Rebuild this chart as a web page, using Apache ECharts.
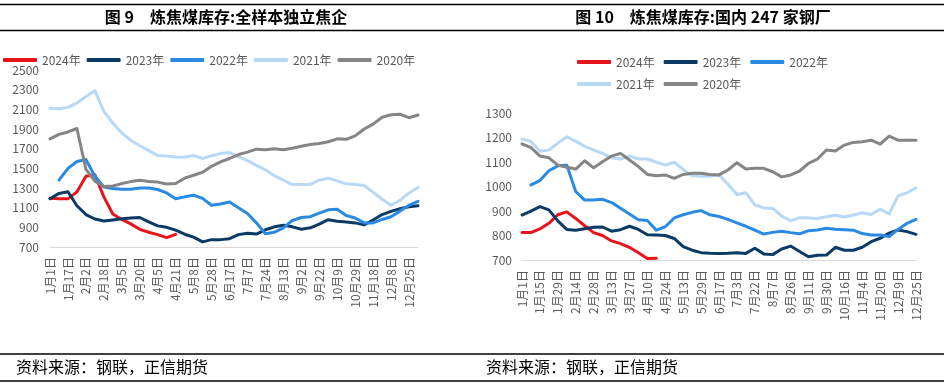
<!DOCTYPE html>
<html>
<head>
<meta charset="utf-8">
<script src="https://cdn.jsdelivr.net/npm/echarts@6/dist/echarts.min.js"></script>
<style>
html,body{margin:0;padding:0;background:#fff;}
#c{width:944px;height:385px;}
</style>
</head>
<body>
<div id="c"></div>
<script>
// ---------- Left chart: 全样本独立焦企 ----------
const leftCategories = ['1月1日','1月9日','1月17日','1月25日','2月2日','2月10日','2月18日','2月25日','3月5日','3月12日','3月20日','3月28日','4月5日','4月13日','4月21日','4月28日','5月8日','5月18日','5月28日','6月7日','6月17日','6月27日','7月7日','7月14日','7月24日','8月3日','8月13日','8月23日','9月2日','9月12日','9月22日','9月29日','10月9日','10月19日','10月29日','11月8日','11月18日','11月28日','12月8日','12月16日','12月25日','12月31日'];
const left2024 = [1195,1190,1190,1260,1420,1435,1210,1035,980,935,880,850,826,795,828];
const left2023 = [1190,1245,1262,1120,1030,985,965,975,987,995,1000,955,915,900,872,830,800,752,775,775,785,826,840,832,875,905,921,905,880,895,932,978,962,955,945,925,975,1030,1062,1090,1110,1120];
const left2022 = [null,1380,1500,1570,1590,1420,1310,1295,1288,1288,1300,1300,1285,1250,1190,1210,1226,1195,1125,1138,1158,1100,1040,945,835,850,895,970,1000,1008,1045,1078,1084,1020,995,945,945,980,1008,1065,1125,1165];
const left2021 = [2110,2105,2120,2165,2230,2290,2080,1960,1860,1785,1730,1680,1630,1625,1615,1612,1630,1600,1628,1650,1660,1620,1578,1530,1485,1425,1380,1335,1335,1338,1380,1400,1372,1342,1335,1325,1255,1185,1125,1175,1250,1305];
const left2020 = [1800,1845,1870,1905,1490,1370,1315,1320,1345,1365,1378,1365,1360,1340,1345,1400,1430,1460,1520,1565,1600,1640,1665,1695,1690,1698,1690,1705,1725,1742,1752,1770,1800,1795,1830,1900,1950,2020,2045,2050,2015,2042];
const leftYTicks = [700,900,1100,1300,1500,1700,1900,2100,2300,2500];

// ---------- Right chart: 国内247家钢厂 ----------
const rightCategories = ['1月1日','1月8日','1月15日','1月22日','1月29日','2月7日','2月14日','2月21日','2月28日','3月6日','3月13日','3月20日','3月27日','4月3日','4月10日','4月17日','4月24日','5月6日','5月13日','5月20日','5月29日','6月7日','6月17日','6月25日','7月3日','7月12日','7月22日','7月29日','8月7日','8月16日','8月26日','9月2日','9月11日','9月20日','9月30日','10月8日','10月16日','10月25日','11月4日','11月12日','11月20日','11月29日','12月9日','12月16日','12月25日'];
const right2024 = [812,812,827,850,885,897,870,840,812,800,778,767,752,730,706,707];
const right2023 = [884,900,918,905,860,825,822,828,834,835,818,824,838,825,803,802,800,788,755,740,730,728,727,728,730,727,748,725,722,745,757,735,713,719,720,752,740,740,752,775,789,810,823,816,805];
const right2022 = [null,1007,1025,1065,1085,1088,980,945,945,948,935,912,888,865,862,822,836,872,885,895,902,885,878,866,852,838,822,806,813,818,812,807,820,823,830,826,824,822,808,802,802,796,825,850,866];
const right2021 = [1195,1185,1145,1150,1178,1204,1185,1165,1150,1136,1118,1113,1125,1113,1113,1100,1088,1100,1070,1045,1043,1043,1048,1010,968,975,925,913,911,880,860,873,872,870,877,883,876,884,893,886,908,888,962,975,995];
const right2020 = [1175,1160,1125,1118,1088,1079,1072,1106,1077,1102,1125,1136,1109,1082,1050,1045,1048,1034,1050,1055,1055,1050,1048,1068,1098,1072,1075,1075,1061,1040,1048,1064,1095,1113,1150,1146,1170,1181,1184,1190,1174,1207,1190,1190,1190];

const seriesNames = ['2024年','2023年','2022年','2021年','2020年'];
const seriesColors = ['#e8141b','#0b3a66','#2a8ae2','#b7d9f6','#858585'];

const FONT = "'Microsoft YaHei','Noto Sans CJK SC',sans-serif";
const labelColor = '#595959';

function mkSeries(name, color, data, idx){
  return {
    name: name, type: 'line', data: data,
    xAxisIndex: idx, yAxisIndex: idx,
    showSymbol: false, symbol: 'none', smooth: false, connectNulls: false,
    lineStyle: {width: 3, color: color, cap: 'round', join: 'round'},
    itemStyle: {color: color},
    emphasis: {disabled: true}
  };
}

const leftSets = [left2024,left2023,left2022,left2021,left2020];
const rightSets = [right2024,right2023,right2022,right2021,right2020];
const series = [];
for (let k=0;k<5;k++) series.push(mkSeries(seriesNames[k], seriesColors[k], leftSets[k], 0));
for (let k=0;k<5;k++) series.push(mkSeries(seriesNames[k], seriesColors[k], rightSets[k], 1));

const legendCommon = {
  icon: 'roundRect', itemWidth: 34, itemHeight: 4,
  textStyle: {color: labelColor, fontSize: 12, fontFamily: FONT},
  selectedMode: false, orient: 'horizontal', padding: 0
};

const chart = echarts.init(document.getElementById('c'), null, {renderer: 'canvas'});
chart.setOption({
  animation: false,
  backgroundColor: '#ffffff',
  textStyle: {fontFamily: FONT},
  grid: [
    {left: 50, width: 368, top: 70, height: 177, containLabel: false},
    {left: 522, width: 394, top: 113.3, height: 146.7, containLabel: false}
  ],
  legend: [
    Object.assign({}, legendCommon, {data: seriesNames, left: 3, top: 54, itemGap: 6}),
    Object.assign({}, legendCommon, {data: seriesNames.slice(0,3), left: 577, top: 56, itemGap: 9}),
    Object.assign({}, legendCommon, {data: seriesNames.slice(3), left: 577, top: 78, itemGap: 9})
  ],
  xAxis: [
    {type: 'category', gridIndex: 0, data: leftCategories, boundaryGap: false,
     axisLine: {lineStyle: {color: '#d9d9d9', width: 1}}, axisTick: {show: false},
     axisLabel: {interval: 1, rotate: 90, color: labelColor, fontSize: 12, margin: 10, fontFamily: FONT}},
    {type: 'category', gridIndex: 1, data: rightCategories, boundaryGap: false,
     axisLine: {lineStyle: {color: '#d9d9d9', width: 1}}, axisTick: {show: false},
     axisLabel: {interval: 1, rotate: 90, color: labelColor, fontSize: 12, margin: 10, fontFamily: FONT}}
  ],
  yAxis: [
    {type: 'value', gridIndex: 0, min: 700, max: 2500, interval: 100,
     axisLine: {show: false}, axisTick: {show: false}, splitLine: {show: false},
     axisLabel: {color: labelColor, fontSize: 12, margin: 11, fontFamily: FONT,
       formatter: function(v){ return leftYTicks.indexOf(v) >= 0 ? String(v) : ''; }}},
    {type: 'value', gridIndex: 1, min: 700, max: 1300, interval: 100,
     axisLine: {show: false}, axisTick: {show: false}, splitLine: {show: false},
     axisLabel: {color: labelColor, fontSize: 12, margin: 10, fontFamily: FONT,
       formatter: function(v){ return String(v); }}}
  ],
  graphic: [
    {type: 'line', shape: {x1: 0, y1: 4.5, x2: 944, y2: 4.5}, style: {stroke: '#000', lineWidth: 1.5}},
    {type: 'line', shape: {x1: 0, y1: 30.5, x2: 944, y2: 30.5}, style: {stroke: '#000', lineWidth: 1.5}},
    {type: 'line', shape: {x1: 0, y1: 354, x2: 944, y2: 354}, style: {stroke: '#000', lineWidth: 1.5}},
    {type: 'line', shape: {x1: 0, y1: 381, x2: 944, y2: 381}, style: {stroke: '#000', lineWidth: 1.5}},
    {type: 'text', style: {text: '图 9　炼焦煤库存:全样本独立焦企', x: 226, y: 17, textAlign: 'center', textVerticalAlign: 'middle', font: "bold 16px 'Noto Sans CJK SC', sans-serif", fill: '#000'}},
    {type: 'text', style: {text: '图 10　炼焦煤库存:国内 247 家钢厂', x: 703, y: 17, textAlign: 'center', textVerticalAlign: 'middle', font: "bold 16px 'Noto Sans CJK SC', sans-serif", fill: '#000'}},
    {type: 'text', style: {text: '资料来源：钢联，正信期货', x: 16, y: 367, textAlign: 'left', textVerticalAlign: 'middle', font: "16px 'Noto Sans CJK SC', sans-serif", fill: '#000'}},
    {type: 'text', style: {text: '资料来源：钢联，正信期货', x: 486, y: 367, textAlign: 'left', textVerticalAlign: 'middle', font: "16px 'Noto Sans CJK SC', sans-serif", fill: '#000'}}
  ],
  series: series
});
</script>
</body>
</html>
